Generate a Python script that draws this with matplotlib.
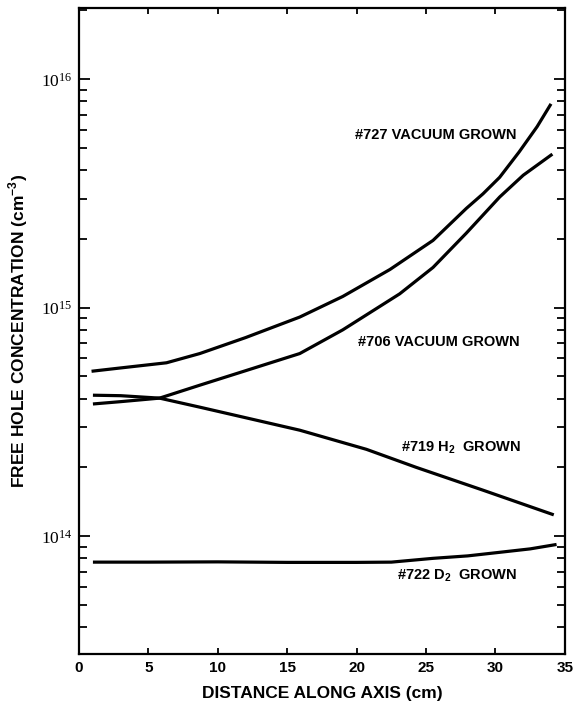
import math
import matplotlib
matplotlib.use("Agg")
import matplotlib.pyplot as plt
from matplotlib.ticker import LogLocator, FixedLocator, NullFormatter, FuncFormatter

plt.rcParams['font.family'] = ['Liberation Sans', 'DejaVu Sans']
plt.rcParams['mathtext.fontset'] = 'custom'
plt.rcParams['mathtext.rm'] = 'Liberation Serif'
plt.rcParams['mathtext.bf'] = 'Liberation Sans:bold'

# Distance along axis (cm) and free hole concentration (cm^-3) per crystal
x_727 = [0.9, 3.0, 6.3, 8.7, 12.0, 15.9, 19.0, 22.4, 25.5, 27.9, 29.1, 30.3, 31.7, 33.0, 34.0]
p_727 = [5.27e14, 5.45e14, 5.74e14, 6.3e14, 7.4e14, 9.1e14, 1.12e15, 1.47e15,
         1.97e15, 2.72e15, 3.15e15, 3.72e15, 4.8e15, 6.2e15, 7.8e15]

x_706 = [1.0, 3.0, 5.8, 8.7, 12.0, 15.9, 19.0, 23.1, 25.5, 27.9, 30.3, 32.0, 34.1]
p_706 = [3.79e14, 3.88e14, 4.02e14, 4.58e14, 5.3e14, 6.3e14, 8.0e14, 1.15e15,
         1.5e15, 2.12e15, 3.05e15, 3.8e15, 4.7e15]

x_719 = [1.0, 3.0, 5.8, 8.7, 12.0, 15.9, 20.7, 24.3, 29.1, 34.2]
p_719 = [4.14e14, 4.12e14, 4.02e14, 3.67e14, 3.3e14, 2.91e14, 2.40e14, 2.0e14,
         1.59e14, 1.24e14]

x_722 = [1.0, 5.0, 10.0, 15.0, 20.0, 22.5, 25.5, 28.0, 30.3, 32.5, 34.4]
p_722 = [7.7e13, 7.7e13, 7.72e13, 7.68e13, 7.68e13, 7.7e13, 8.0e13, 8.2e13,
         8.5e13, 8.8e13, 9.2e13]

labels = ["#727 VACUUM GROWN", "#706 VACUUM GROWN",
          "#719 H$_\\mathbf{2}$  GROWN", "#722 D$_\\mathbf{2}$  GROWN"]
label_x = [19.9, 20.1, 23.2, 22.9]
label_y = [5.7e15, 7.06e14, 2.43e14, 6.75e13]

x_ticks = [0, 5, 10, 15, 20, 25, 30, 35]

fig = plt.figure(figsize=(5.77, 7.05), dpi=100)
ax = fig.add_axes([0.137, 0.0723, 0.842, 0.9164])

for xs, ps in [(x_727, p_727), (x_706, p_706), (x_719, p_719), (x_722, p_722)]:
    ax.plot(xs, ps, color='black', lw=2.3, solid_capstyle='butt',
            solid_joinstyle='round')

for txt, lx, ly in zip(labels, label_x, label_y):
    ax.text(lx, ly, txt, fontsize=10.5, fontweight='bold', va='center', ha='left')

ax.set_yscale('log')
ax.set_xlim(0, 35)
ax.set_ylim(3.05e13, 2.05e16)

ax.xaxis.set_major_locator(FixedLocator(x_ticks))
ax.yaxis.set_major_locator(LogLocator(base=10, numticks=10))
ax.yaxis.set_minor_locator(LogLocator(base=10, subs=range(2, 10), numticks=20))
ax.yaxis.set_minor_formatter(NullFormatter())
ax.yaxis.set_major_formatter(FuncFormatter(
    lambda v, pos: r'$\mathrm{10^{%d}}$' % round(math.log10(v))))

ax.tick_params(axis='both', which='both', direction='in', top=True, right=True,
               width=1.3, colors='black')
ax.tick_params(axis='y', which='major', length=8, labelsize=12.5, pad=5)
ax.tick_params(axis='y', which='minor', length=6)
ax.tick_params(axis='x', which='major', length=4, labelsize=11, pad=5)
for lab in ax.get_xticklabels():
    lab.set_fontweight('bold')

for sp in ax.spines.values():
    sp.set_linewidth(1.6)

ax.set_xlabel('DISTANCE ALONG AXIS (cm)', fontsize=12.5, fontweight='bold', labelpad=8)
ax.set_ylabel('FREE HOLE CONCENTRATION (cm$^{\\mathbf{-3}}$)', fontsize=12.5,
              fontweight='bold', labelpad=8)

fig.savefig('out.png', dpi=100)
